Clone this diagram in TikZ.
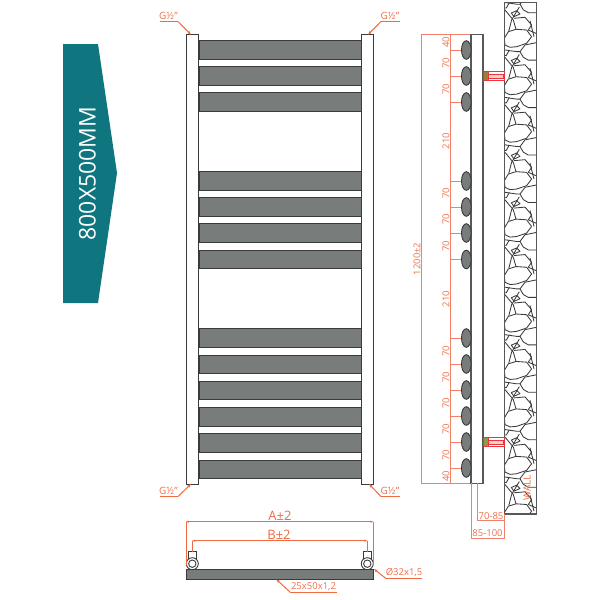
\documentclass[tikz,border=0pt]{standalone}
\usepackage{fontspec}
\setmainfont{Open Sans}
\usetikzlibrary{arrows.meta}
\definecolor{teal1}{HTML}{0F7680}
\definecolor{barfill}{HTML}{787D7B}
\definecolor{dark}{HTML}{3A3A3A}
\definecolor{dim}{HTML}{F2806A}
\definecolor{dimtext}{HTML}{EE7048}
\definecolor{lead}{HTML}{EE6A40}
\definecolor{brk}{HTML}{E8363C}
\tikzset{
  rail/.style={draw=dark,line width=0.9pt,fill=white},
  bar/.style={draw=dark,line width=0.9pt,fill=barfill},
  dimline/.style={draw=dim,line width=1pt},
  leader/.style={draw=lead,line width=1pt},
  tipline/.style={leader,-{Stealth[length=4pt,width=3pt]}},
  dimlab/.style={text=dimtext,font=\fontsize{9.5}{10}\selectfont,inner sep=0pt},
  glab/.style={text=dimtext,font=\fontsize{10}{10}\selectfont,inner sep=0pt},
  biglab/.style={text=lead,font=\fontsize{13}{13}\selectfont,inner sep=0pt},
  oval/.style={draw=dark,line width=0.9pt,fill=barfill},
  stone/.style={draw=dark,line width=0.85pt,line join=round},
}
\begin{document}
\begin{tikzpicture}[x=1pt,y=-1pt]
\useasboundingbox (0,0) rectangle (600,600);
% badge
\fill[teal1] (63,44) -- (98,44) -- (117,173) -- (98,303) -- (63,303) -- cycle;
\node[rotate=90,text=white,font=\fontsize{23}{23}\selectfont,inner sep=0pt] (badge) at (87.5,173.5) {800X500MM};
% front view bars
\foreach \t/\b in {40/59.3,66.6/85.4,92.8/111.5,171.5/190,197.5/216,223.7/242,250/268.5,328.5/347,355/373.5,381/399.7,407.2/426,433.5/452,460/478}
  \draw[bar] (199,\t) rectangle (361,\b);
\draw[rail] (186,34.7) rectangle (198.8,484);
\draw[rail] (361,34.7) rectangle (373.3,484);
% G labels
\coordinate (gtl) at (191,34.7); \coordinate (gtr) at (368,34.7);
\coordinate (gbl) at (191,484);  \coordinate (gbr) at (369,484);
\node[glab] (gl1) at (168.5,16) {G½"};
\node[glab] (gl2) at (390,16) {G½"};
\node[glab] (gl3) at (168.5,491) {G½"};
\node[glab] (gl4) at (390,491) {G½"};
\draw[leader] (159.5,21.5) -- (178,21.5);
\draw[tipline] (178,21.5) -- (gtl);
\draw[leader] (399.5,21.5) -- (381,21.5);
\draw[tipline] (381,21.5) -- (gtr);
\draw[leader] (159.5,496.5) -- (178,496.5);
\draw[tipline] (178,496.5) -- (gbl);
\draw[leader] (399.5,496.5) -- (381,496.5);
\draw[tipline] (381,496.5) -- (gbr);
% side view dimension lines
\draw[dimline] (471,34.5) -- (421.7,34.5) -- (421.7,483.3) -- (483,483.3);
\draw[dimline] (450.7,34.5) -- (450.7,483.3);
\foreach \y in {50,76,102,181,207,233,259.5,338,364,390,416,442,468}
  \draw[dimline] (450.7,\y) -- (461,\y);
% side view rail and ovals
\draw[draw=dark!85,line width=1.1pt,fill=white] (471,34.5) rectangle (483,483.3);
\foreach \y in {50,76,102,181,207,233,259.5,338,364,390,416,442,468}
  \draw[oval] (466.3,\y) ellipse (4.8 and 9.3);
% side labels
\foreach \n/\y/\s in {a/42/40,b/63/70,c/89/70,d/141/210,e/193.5/70,f/219.5/70,g/246/70,h/299/210,i/351/70,j/377/70,k/403/70,l/429/70,m/455/70,n/476/40}
  \node[dimlab,rotate=90] (lab\n) at (446,\y) {\s};
\node[dimlab,rotate=90] (labh) at (417,259) {1200±2};
% wall
\begin{scope}
\clip (504.3,2.7) rectangle (536.3,514);
\foreach \k in {-1,...,11}{
\begin{scope}[shift={(504.3,47.45*\k)}]
  \draw[stone] (15.7,4.2) -- (19,9.8) -- (24,12.7) -- (32,12.7);
  \draw[stone] (15.7,4.2) -- (20.7,-2.5) -- (32,-4.8);
  \draw[stone] (0.7,2.5) -- (12.3,4.2) -- (15.7,4.2);
  \draw[stone] (5,2.7) -- (2,8) -- (0,8);
  \draw[stone] (7,13) -- (12.3,10.7) -- (15.7,14) -- (9.7,16.7) -- cycle;
  \draw[stone] (0.7,10) -- (9,20) -- (11.7,29.3);
  \draw[stone] (15,7) -- (7.3,20) -- (4.5,31);
  \draw[stone] (9.7,18.3) -- (20.7,17.3) -- (27.3,25) -- (24,30);
  \draw[stone] (25.7,20.7) -- (29.7,36.7);
  \draw[stone] (24,30) -- (32,33.5);
  \draw[stone] (0,38.3) -- (4,31.7) -- (11.7,29.3) -- (22.3,30) -- (27.3,36.7);
  \draw[stone] (27.3,36.7) -- (22.3,43.3) -- (12.3,46.7) -- (5.7,47.3) -- (0.7,45) -- (0,38.3);
\end{scope}}
\end{scope}
\draw[draw=dark!85,line width=1.1pt] (504.3,2.7) rectangle (536.3,514);
% brackets
\foreach \y/\c in {71.5/A07E30,437.7/8C9A40}{
  \definecolor{plug}{HTML}{\c}
  \draw[brk,line width=0.9pt,fill=white] (483,\y) rectangle (504,\y+9);
  \draw[brk,line width=0.6pt,fill=brk!25] (488,\y+2.3) rectangle (503,\y+6.7);
  \draw[brk,line width=0.9pt,fill=plug] (483.5,\y) rectangle (488,\y+9);
}
\node[rotate=90,text=dimtext,font=\fontsize{10}{10}\selectfont,inner sep=0pt] (wall) at (527,488) {WALL};
% gap dims
\draw[dimline] (477.7,483.3) -- (477.7,520.7) -- (504.3,520.7);
\draw[dimline] (471,483.3) -- (471,538) -- (504.3,538) -- (504.3,514);
\node[dimlab] (d1) at (491,516) {70-85};
\node[dimlab] (d2) at (487.5,533.5) {85-100};
% bottom view
\draw[draw=dark,line width=0.9pt,fill=barfill] (186,569.5) rectangle (373.3,579);
\foreach \x in {192.3,367.3}{
  \draw[draw=dark,line width=0.9pt,fill=white] (\x-4.2,551.7) rectangle (\x+4.2,560);
  \draw[draw=dark,line width=0.9pt,fill=white] (\x,563.7) circle (6);
  \draw[draw=dark,line width=0.9pt,fill=white] (\x,563.7) circle (3.7);
}
\draw[leader,{Stealth[length=3pt,width=2.2pt]}-{Stealth[length=3pt,width=2.2pt]}] (186,521.7) -- (373.3,521.7);
\draw[leader] (186,521.7) -- (186,565);
\draw[leader] (373.3,521.7) -- (373.3,565);
\draw[leader,{Stealth[length=3pt,width=2.2pt]}-{Stealth[length=3pt,width=2.2pt]}] (192.3,540.7) -- (367.3,540.7);
\draw[leader] (192.3,540.7) -- (192.3,552);
\draw[leader] (367.3,540.7) -- (367.3,552);
\node[biglab] (alab) at (280,516) {A±2};
\node[biglab] (blab) at (279,535) {B±2};
\coordinate (pipe) at (374,569); \coordinate (flat) at (276.5,579.5);
\draw[leader] (422,578.5) -- (386,578.5);
\draw[tipline] (386,578.5) -- (pipe);
\node[glab,font=\fontsize{9.5}{10}\selectfont] (plab) at (404,573) {Ø32x1,5};
\draw[leader] (337,592) -- (290,592);
\draw[tipline] (290,592) -- (flat);
\node[glab,font=\fontsize{9.5}{10}\selectfont] (flab) at (313.5,587) {25x50x1,2};
\end{tikzpicture}
\end{document}
